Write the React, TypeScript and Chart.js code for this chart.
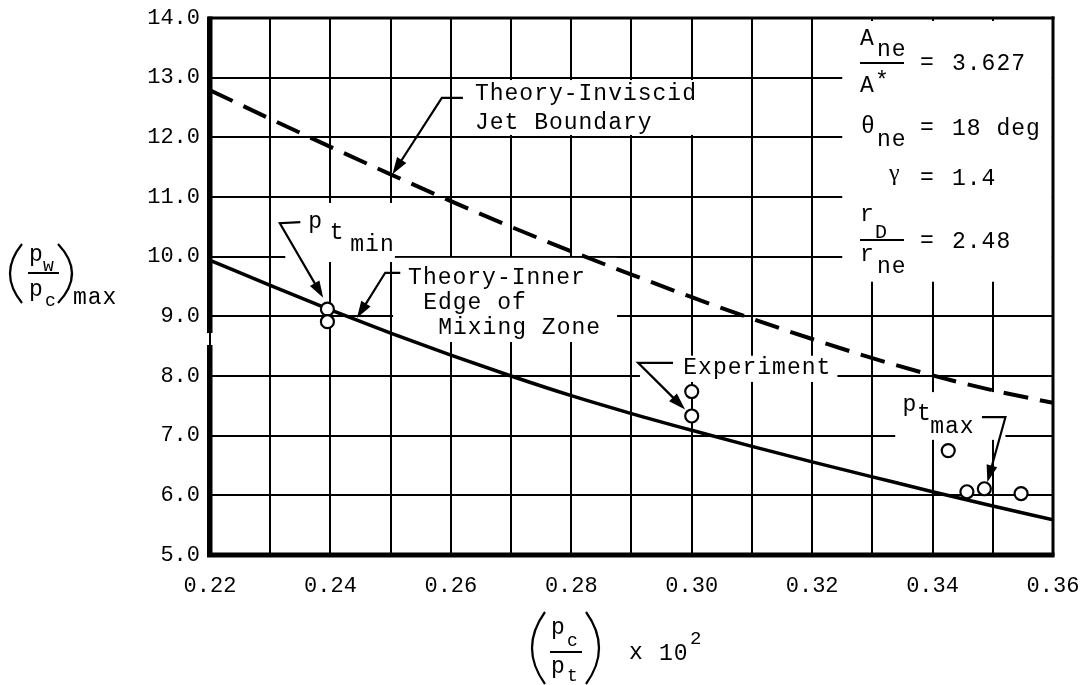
import React, { useEffect, useRef } from "react";
import { Chart, registerables } from "chart.js";

Chart.register(...registerables);

// ---- data ----
const xGrid = [0.22, 0.23, 0.24, 0.25, 0.26, 0.27, 0.28, 0.29, 0.30, 0.31, 0.32, 0.33, 0.34, 0.35, 0.36];
const jetBoundary = [12.79, 12.31, 11.84, 11.38, 10.93, 10.5, 10.09, 9.7, 9.32, 8.96, 8.62, 8.3, 8.01, 7.76, 7.55];
const innerEdge = [9.94, 9.52, 9.11, 8.72, 8.35, 8.0, 7.67, 7.37, 7.09, 6.82, 6.56, 6.31, 6.06, 5.82, 5.59];
const expX = [0.2395, 0.2395, 0.30, 0.30, 0.3426, 0.3457, 0.3486, 0.3547];
const expY = [9.12, 8.91, 7.74, 7.33, 6.75, 6.06, 6.11, 6.03];
const xTickLabels = ["0.22", "0.24", "0.26", "0.28", "0.30", "0.32", "0.34", "0.36"];
const yTickLabels = ["5.0", "6.0", "7.0", "8.0", "9.0", "10.0", "11.0", "12.0", "13.0", "14.0"];

const MONO = '"Liberation Mono", "DejaVu Sans Mono", monospace';
const SERIF = '"Liberation Serif", "DejaVu Serif", serif';

function txt(ctx: CanvasRenderingContext2D, s: string, x: number, y: number, size = 23, family = MONO) {
  ctx.font = `${size}px ${family}`;
  ctx.fillText(s, x, y);
}

function arrow(ctx: CanvasRenderingContext2D, pts: number[][]) {
  ctx.save();
  ctx.strokeStyle = "#000";
  ctx.fillStyle = "#000";
  ctx.lineWidth = 2.2;
  const n = pts.length;
  const [tx, ty] = pts[n - 1];
  const [sx, sy] = pts[n - 2];
  const ang = Math.atan2(ty - sy, tx - sx);
  const L = 17, W = 5.5;
  ctx.beginPath();
  ctx.moveTo(pts[0][0], pts[0][1]);
  for (let i = 1; i < n - 1; i++) ctx.lineTo(pts[i][0], pts[i][1]);
  ctx.lineTo(tx - Math.cos(ang) * (L - 2), ty - Math.sin(ang) * (L - 2));
  ctx.stroke();
  ctx.beginPath();
  ctx.moveTo(tx, ty);
  ctx.lineTo(tx - L * Math.cos(ang) + W * Math.sin(ang), ty - L * Math.sin(ang) - W * Math.cos(ang));
  ctx.lineTo(tx - L * Math.cos(ang) - W * Math.sin(ang), ty - L * Math.sin(ang) + W * Math.cos(ang));
  ctx.closePath();
  ctx.fill();
  ctx.restore();
}

function paren(ctx: CanvasRenderingContext2D, x: number, y0: number, y1: number, cx: number) {
  ctx.beginPath();
  ctx.moveTo(x, y0);
  ctx.quadraticCurveTo(cx, (y0 + y1) / 2, x, y1);
  ctx.stroke();
}

const decorPlugin = {
  id: "decor",
  beforeDatasetsDraw(chart: any) {
    const ctx: CanvasRenderingContext2D = chart.ctx;
    const xs = chart.scales.x, ys = chart.scales.y;
    const X = (v: number) => xs.getPixelForValue(v);
    const Y = (v: number) => ys.getPixelForValue(v);
    const masks = [
      [0.2632, 0.3089, 12.96, 12.04],
      [0.2325, 0.2507, 10.9, 9.91],
      [0.2504, 0.2876, 9.98, 8.57],
      [0.2914, 0.3242, 8.34, 7.9],
      [0.3338, 0.3521, 7.73, 6.93],
      [0.325, 0.3598, 13.95, 9.58],
    ];
    ctx.save();
    ctx.fillStyle = "#fff";
    for (const [x0, x1, y0, y1] of masks) {
      ctx.fillRect(X(x0), Y(y0), X(x1) - X(x0), Y(y1) - Y(y0));
    }
    ctx.restore();
  },
  afterDraw(chart: any) {
    const ctx: CanvasRenderingContext2D = chart.ctx;
    const xs = chart.scales.x, ys = chart.scales.y;
    const X = (v: number) => xs.getPixelForValue(v);
    const Y = (v: number) => ys.getPixelForValue(v);
    const { left, right, top, bottom } = chart.chartArea;
    ctx.save();
    ctx.fillStyle = "#000";
    ctx.strokeStyle = "#000";
    (ctx as any).letterSpacing = "1px";
    ctx.textBaseline = "alphabetic";
    ctx.textAlign = "left";

    // frame (with the axis break on the left side)
    ctx.fillRect(left - 2, top - 1.5, right - left + 3.5, 3);
    ctx.fillRect(right - 1.5, top - 1.5, 3, bottom - top + 3);
    ctx.fillRect(left - 3, bottom - 2.5, right - left + 4.5, 5);
    const gap0 = Y(8.72), gap1 = Y(8.52);
    ctx.fillRect(left - 3, top - 1.5, 5.5, gap0 - top + 1.5);
    ctx.fillRect(left - 3, gap1, 5.5, bottom - gap1);

    // Theory-Inviscid Jet Boundary
    txt(ctx, "Theory-Inviscid", X(0.264), Y(12.62));
    txt(ctx, "Jet Boundary", X(0.264), Y(12.14));
    arrow(ctx, [[X(0.262), Y(12.66)], [X(0.2585), Y(12.66)], [X(0.2503), Y(11.38)]]);

    // p_t min
    txt(ctx, "p", X(0.2363), Y(10.48));
    txt(ctx, "t", X(0.2399), Y(10.3));
    txt(ctx, "min", X(0.2433), Y(10.1));
    arrow(ctx, [[X(0.235), Y(10.58)], [X(0.2316), Y(10.56)], [X(0.2388), Y(9.31)]]);

    // Theory-Inner Edge of Mixing Zone
    txt(ctx, "Theory-Inner", X(0.2529), Y(9.54));
    txt(ctx, "Edge of", X(0.2554), Y(9.12));
    txt(ctx, "Mixing Zone", X(0.2579), Y(8.7));
    arrow(ctx, [[X(0.2516), Y(9.73)], [X(0.2491), Y(9.73)], [X(0.2444), Y(8.97)]]);

    // Experiment
    txt(ctx, "Experiment", X(0.2986), Y(8.03));
    arrow(ctx, [[X(0.2969), Y(8.22)], [X(0.2911), Y(8.22)], [X(0.2989), Y(7.44)]]);

    // p_t max
    txt(ctx, "p", X(0.335), Y(7.41));
    txt(ctx, "t", X(0.3374), Y(7.26));
    txt(ctx, "max", X(0.3396), Y(7.05));
    arrow(ctx, [[X(0.3482), Y(7.31)], [X(0.3521), Y(7.31)], [X(0.3491), Y(6.22)]]);

    // parameter block
    ctx.lineWidth = 2;
    txt(ctx, "A", 860, 45);
    txt(ctx, "ne", 877, 56);
    ctx.fillRect(860, 62, 44, 2);
    txt(ctx, "A", 860, 92);
    txt(ctx, "*", 875, 88);
    txt(ctx, "=", 920, 69);
    txt(ctx, "3.627", 952, 70);

    txt(ctx, "\u03b8", 861, 133, 22, "italic " + SERIF);
    txt(ctx, "ne", 877, 146);
    txt(ctx, "=", 920, 134);
    txt(ctx, "18 deg", 952, 135);

    txt(ctx, "\u03b3", 889, 180, 24, SERIF);
    txt(ctx, "=", 920, 184);
    txt(ctx, "1.4", 952, 185);

    txt(ctx, "r", 860, 221);
    txt(ctx, "D", 875, 238, 20);
    ctx.fillRect(860, 239, 44, 2);
    txt(ctx, "r", 860, 261);
    txt(ctx, "ne", 877, 273);
    txt(ctx, "=", 920, 247);
    txt(ctx, "2.48", 952, 248);

    // y-axis title
    ctx.lineWidth = 2.2;
    paren(ctx, 22, 244, 303, -2);
    paren(ctx, 58, 244, 303, 86);
    txt(ctx, "p", 29, 261);
    txt(ctx, "w", 43, 271, 18);
    ctx.fillRect(28, 272, 31, 2);
    txt(ctx, "p", 29, 296);
    txt(ctx, "c", 45, 306, 18);
    txt(ctx, "max", 73, 304);

    // x-axis title
    paren(ctx, 545, 612, 684, 519);
    paren(ctx, 586, 612, 684, 612);
    txt(ctx, "p", 551, 634);
    txt(ctx, "c", 567, 646, 18);
    ctx.fillRect(550, 651, 32, 2);
    txt(ctx, "p", 551, 673);
    txt(ctx, "t", 567, 681, 18);
    txt(ctx, "x", 629, 659);
    txt(ctx, "10", 659, 660);
    txt(ctx, "2", 690, 644, 19);
    ctx.restore();
  },
};

export default function App() {
  const ref = useRef<HTMLCanvasElement>(null);
  useEffect(() => {
    if (!ref.current) return;
    const chart = new Chart(ref.current, {
      type: "scatter",
      data: {
        datasets: [
          {
            label: "Experiment",
            data: expX.map((x, i) => ({ x, y: expY[i] })),
            showLine: false,
            pointStyle: "circle",
            pointRadius: 6.5,
            pointBorderWidth: 2.2,
            pointBorderColor: "#000",
            pointBackgroundColor: "#fff",
            order: 0,
          } as any,
          {
            label: "Theory-Inviscid Jet Boundary",
            data: xGrid.map((x, i) => ({ x, y: jetBoundary[i] })),
            showLine: true,
            borderColor: "#000",
            borderWidth: 4,
            borderDash: [25, 12],
            pointRadius: 0,
            cubicInterpolationMode: "monotone",
            order: 1,
          } as any,
          {
            label: "Theory-Inner Edge of Mixing Zone",
            data: xGrid.map((x, i) => ({ x, y: innerEdge[i] })),
            showLine: true,
            borderColor: "#000",
            borderWidth: 3.5,
            pointRadius: 0,
            cubicInterpolationMode: "monotone",
            order: 2,
          } as any,
        ],
      },
      options: {
        animation: false,
        responsive: false,
        devicePixelRatio: 1,
        layout: { padding: { top: 18, right: 27, left: 0, bottom: 0 } },
        plugins: { legend: { display: false }, tooltip: { enabled: false } },
        scales: {
          x: {
            type: "linear",
            min: 0.22,
            max: 0.36,
            afterFit: (s: any) => { s.height = 130; s.paddingLeft = 0; s.paddingRight = 0; },
            grid: { color: "#000", lineWidth: 2, drawTicks: false },
            border: { display: false },
            ticks: {
              stepSize: 0.01,
              autoSkip: false,
              maxRotation: 0,
              padding: 18,
              color: "#000",
              font: { family: MONO, size: 22 },
              callback: (v: any) => {
                const k = Math.round(Number(v) * 100);
                return k % 2 === 0 ? xTickLabels[(k - 22) / 2] : "";
              },
            },
          },
          y: {
            type: "linear",
            min: 5,
            max: 14,
            afterFit: (s: any) => { s.width = 210; s.paddingTop = 0; s.paddingBottom = 0; },
            grid: { color: "#000", lineWidth: 2, drawTicks: false },
            border: { display: false },
            ticks: {
              stepSize: 1,
              padding: 10,
              color: "#000",
              font: { family: MONO, size: 22 },
              callback: (v: any) => yTickLabels[Math.round(Number(v)) - 5],
            },
          },
        },
      },
      plugins: [decorPlugin],
    } as any);
    return () => chart.destroy();
  }, []);
  return (
    <div style={{ position: "absolute", left: 0, top: 0, width: 1080, height: 685, background: "#fff" }}>
      <canvas ref={ref} width={1080} height={685} />
    </div>
  );
}
